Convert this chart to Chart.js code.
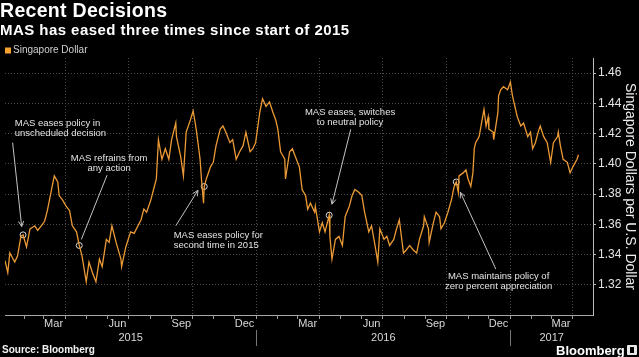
<!DOCTYPE html>
<html><head><meta charset="utf-8">
<script src="https://cdn.jsdelivr.net/npm/chart.js@4"></script>
<style>
html,body{margin:0;padding:0;background:#000;width:639px;height:357px;overflow:hidden;}
#wrap{position:relative;width:639px;height:357px;}
canvas{position:absolute;left:0;top:0;}
.t{position:absolute;color:#fff;font-family:"Liberation Sans",Arial,sans-serif;white-space:nowrap;font-weight:bold;}
#logo{position:absolute;left:627px;top:345px;width:10px;height:10px;background:#e8e8e8;border-radius:1px;}
#logo i{position:absolute;left:3px;top:2px;width:4px;height:6px;background:#000;}
</style></head><body>
<div id="wrap">
<canvas id="c" width="639" height="357"></canvas>
<div class="t" style="left:0;top:1px;font-size:19.5px;line-height:19.5px;letter-spacing:0.3px">Recent Decisions</div>
<div class="t" style="left:0;top:22px;font-size:15px;line-height:15px;letter-spacing:0.45px">MAS has eased three times since start of 2015</div>
<div class="t" style="left:2px;top:345px;font-size:10px;line-height:10px;color:#f2f2f2">Source: Bloomberg</div>
<div class="t" style="left:556px;top:344px;font-size:13px;line-height:13px">Bloomberg</div>
<div id="logo"><i></i></div>
</div>
<script>
// ---- data (days since 1 Jan 2015, SGD per USD) ----
const seriesDays = [3,7,10,17,21,26,29,34,39,46,50,57,60,64,70,74,79,81,86,91,96,100,106,110,114,120,124,129,134,139,143,149,153,157,163,170,171,177,184,189,199,203,207,213,217,221,224,229,234,239,243,249,250,256,260,264,270,274,277,279,284,286,289,290,293,299,303,307,313,317,321,327,331,336,341,346,350,356,360,364,370,374,379,384,389,393,396,400,406,407,413,417,421,427,431,436,439,443,449,450,456,460,464,470,471,474,479,484,489,493,499,503,507,513,517,521,527,531,536,540,543,549,553,557,563,567,571,577,581,586,591,596,600,606,607,613,614,620,624,629,631,636,641,646,650,653,656,657,663,667,670,674,677,679,681,686,691,693,696,699,700,706,707,710,713,714,717,721,727,731,734,736,741,746,750,756,760,763,767,771,774,779,784,789,793,799,800,803,807,813,817,821,827,829];
const seriesValues = [1.336,1.328,1.341,1.335,1.339,1.352,1.353,1.345,1.357,1.359,1.356,1.360,1.362,1.369,1.383,1.392,1.388,1.379,1.376,1.372,1.369,1.359,1.355,1.346,1.339,1.322,1.335,1.328,1.322,1.337,1.332,1.350,1.348,1.359,1.348,1.337,1.332,1.345,1.355,1.354,1.363,1.370,1.368,1.376,1.383,1.390,1.416,1.403,1.410,1.403,1.416,1.427,1.418,1.405,1.392,1.421,1.429,1.435,1.427,1.421,1.403,1.390,1.374,1.385,1.390,1.398,1.401,1.412,1.423,1.425,1.421,1.414,1.416,1.403,1.408,1.412,1.421,1.408,1.410,1.414,1.434,1.443,1.438,1.441,1.434,1.429,1.423,1.408,1.403,1.390,1.408,1.410,1.405,1.398,1.383,1.379,1.370,1.374,1.368,1.372,1.355,1.361,1.355,1.366,1.352,1.337,1.350,1.352,1.346,1.365,1.372,1.379,1.383,1.381,1.379,1.368,1.355,1.359,1.346,1.335,1.357,1.350,1.352,1.346,1.350,1.357,1.363,1.341,1.343,1.346,1.343,1.341,1.350,1.359,1.365,1.357,1.348,1.361,1.368,1.365,1.357,1.361,1.368,1.376,1.385,1.388,1.381,1.392,1.394,1.396,1.390,1.385,1.394,1.410,1.414,1.418,1.431,1.436,1.425,1.431,1.423,1.421,1.416,1.425,1.434,1.445,1.449,1.451,1.449,1.454,1.445,1.441,1.431,1.425,1.427,1.418,1.421,1.410,1.414,1.421,1.425,1.418,1.414,1.401,1.414,1.418,1.421,1.412,1.403,1.401,1.394,1.398,1.403,1.406];
const decisionDays = [29,110,290,470,653];
const decisionValues = [1.353,1.346,1.385,1.366,1.388];
const yTickValues = [1.32,1.34,1.36,1.38,1.40,1.42,1.44,1.46];
const monthLabels = ['Mar','Jun','Sep','Dec','Mar','Jun','Sep','Dec','Mar'];
const monthLabelDates = ['2015-03-15','2015-06-15','2015-09-15','2015-12-15','2016-03-15','2016-06-15','2016-09-15','2016-12-15','2017-03-15'];
const yearLabels = ['2015','2016','2017'];
const yearStartDates = ['2015-01-01','2016-01-01','2017-01-01'];
const seriesName = 'Singapore Dollar';
const yTitle = 'Singapore Dollars per U.S. Dollar';

// annotation notes (anchored in data units)
const notes = [
  {lines:['MAS eases policy in','unscheduled decision'], at:[17,1.4268], align:'left', from:[14,1.4140], to:[27,1.3585], head:true},
  {lines:['MAS refrains from','any action'], at:[153,1.4037], align:'center', from:[150,1.3925], to:[113,1.3500], head:false},
  {lines:['MAS eases policy for','second time in 2015'], at:[246,1.3528], align:'left', from:[249,1.3590], to:[281,1.3825], head:true},
  {lines:['MAS eases, switches','to neutral policy'], at:[500,1.4341], align:'center', from:[501,1.4228], to:[474,1.3733], head:true},
  {lines:['MAS maintains policy of','zero percent appreciation'], at:[714,1.3257], align:'center', from:[710,1.3304], to:[659,1.3811], head:true}
];

const BASE = Date.UTC(2015,0,1);
const dayOf = s => (Date.parse(s + 'T00:00:00Z') - BASE) / 86400000;
const X_MIN = 3, X_MAX = 850;
const monthStarts = [], quarterStarts = new Set();
for (let y = 2015; y <= 2017; y++) for (let m = 0; m < 12; m++) {
  const d = (Date.UTC(y,m,1) - BASE) / 86400000;
  if (d >= X_MIN && d <= X_MAX) { monthStarts.push(d); if (m % 3 === 0) quarterStarts.add(d); }
}
const FONT = '"Liberation Sans", Arial, sans-serif';

// compact legend drawn from the first dataset
const legendPlugin = {
  id: 'compactLegend',
  afterDraw(chart) {
    const {ctx, chartArea} = chart;
    const ds = chart.data.datasets[0];
    const cy = chartArea.top - 7.5;
    ctx.save();
    ctx.fillStyle = ds.backgroundColor;
    ctx.fillRect(5, cy - 3, 6, 6);
    ctx.font = '10px ' + FONT;
    ctx.fillStyle = '#cfcfcf';
    ctx.textAlign = 'left';
    ctx.textBaseline = 'middle';
    ctx.fillText(ds.label, 13, cy);
    ctx.restore();
  }
};

const notePlugin = {
  id: 'notes',
  afterDatasetsDraw(chart) {
    const {ctx, scales: {x, y}} = chart;
    ctx.save();
    ctx.font = '9.5px ' + FONT;
    ctx.fillStyle = '#e4e4e4';
    ctx.textBaseline = 'middle';
    notes.forEach(a => {
      ctx.textAlign = a.align;
      const tx = x.getPixelForValue(a.at[0]), ty = y.getPixelForValue(a.at[1]);
      a.lines.forEach((l, i) => ctx.fillText(l, tx, ty + i * 10.5));
      const x1 = x.getPixelForValue(a.from[0]), y1 = y.getPixelForValue(a.from[1]);
      const x2 = x.getPixelForValue(a.to[0]), y2 = y.getPixelForValue(a.to[1]);
      ctx.strokeStyle = '#c4c4c4'; ctx.lineWidth = 1;
      ctx.beginPath(); ctx.moveTo(x1, y1); ctx.lineTo(x2, y2); ctx.stroke();
      if (a.head) {
        const ang = Math.atan2(y2 - y1, x2 - x1), L = 6, sp = 0.45;
        ctx.beginPath();
        ctx.moveTo(x2 - L * Math.cos(ang - sp), y2 - L * Math.sin(ang - sp));
        ctx.lineTo(x2, y2);
        ctx.lineTo(x2 - L * Math.cos(ang + sp), y2 - L * Math.sin(ang + sp));
        ctx.stroke();
      }
    });
    ctx.restore();
  }
};

const axisLabelPlugin = {
  id: 'axisLabels',
  afterDraw(chart) {
    const {ctx, chartArea, scales: {x}} = chart;
    const b = chartArea.bottom;
    ctx.save();
    ctx.font = '11px ' + FONT;
    ctx.fillStyle = '#d8d8d8';
    ctx.textAlign = 'center';
    ctx.textBaseline = 'middle';
    monthLabels.forEach((m, i) => ctx.fillText(m, x.getPixelForValue(dayOf(monthLabelDates[i])), b + 8.5));
    const starts = yearStartDates.map(dayOf);
    ctx.strokeStyle = '#777'; ctx.lineWidth = 1;
    starts.forEach((d, i) => {
      if (d > X_MIN) {
        const px = Math.round(x.getPixelForValue(d)) + 0.5;
        ctx.beginPath(); ctx.moveTo(px, b + 15); ctx.lineTo(px, b + 31); ctx.stroke();
      }
      const lo = Math.max(d, X_MIN), hi = i + 1 < starts.length ? starts[i + 1] : X_MAX;
      ctx.fillText(yearLabels[i], (x.getPixelForValue(lo) + x.getPixelForValue(Math.min(hi, X_MAX))) / 2, b + 23);
    });
    ctx.restore();
  }
};

new Chart(document.getElementById('c'), {
  type: 'line',
  data: {
    datasets: [
      {label: seriesName, data: seriesDays.map((d, i) => ({x: d, y: seriesValues[i]})),
       borderColor: '#eb9a35', backgroundColor: '#f5a233', borderWidth: 1.3, pointRadius: 0, tension: 0},
      {label: 'decisions', data: decisionDays.map((d, i) => ({x: d, y: decisionValues[i]})),
       showLine: false, pointRadius: 3, pointStyle: 'circle', borderColor: '#d8d8d8',
       backgroundColor: 'rgba(0,0,0,0)', pointBorderWidth: 1, borderWidth: 1}
    ]
  },
  options: {
    responsive: false, animation: false, devicePixelRatio: 1,
    layout: {padding: {top: 58, left: 0, right: 0, bottom: 0}},
    plugins: {legend: {display: false}, tooltip: {enabled: false}},
    scales: {
      x: {type: 'linear', min: X_MIN, max: X_MAX,
        afterBuildTicks: s => { s.ticks = monthStarts.map(v => ({value: v})); },
        afterFit: s => { s.height = 42; },
        ticks: {display: false},
        grid: {color: c => (c.tick && quarterStarts.has(c.tick.value)) ? '#4a4a4a' : 'rgba(0,0,0,0)',
               tickColor: '#9a9a9a', tickLength: 4, tickBorderDash: []},
        border: {color: '#a8a8a8', dash: [1, 2]}
      },
      y: {position: 'right', min: 1.30, max: 1.47,
        afterBuildTicks: s => { s.ticks = yTickValues.map(v => ({value: v})); },
        afterFit: s => { s.width = 46; },
        ticks: {color: '#e4e4e4', font: {family: FONT, size: 12}, padding: 2, callback: v => v.toFixed(2)},
        grid: {color: '#4a4a4a', tickColor: '#bbb', tickLength: 3, tickBorderDash: []},
        border: {color: '#bbb', dash: [1, 2]},
        title: {display: true, text: yTitle, color: '#eeeeee', font: {family: FONT, size: 14}, padding: {top: 1, bottom: 0}}
      }
    }
  },
  plugins: [legendPlugin, notePlugin, axisLabelPlugin]
});
</script>
</body></html>
